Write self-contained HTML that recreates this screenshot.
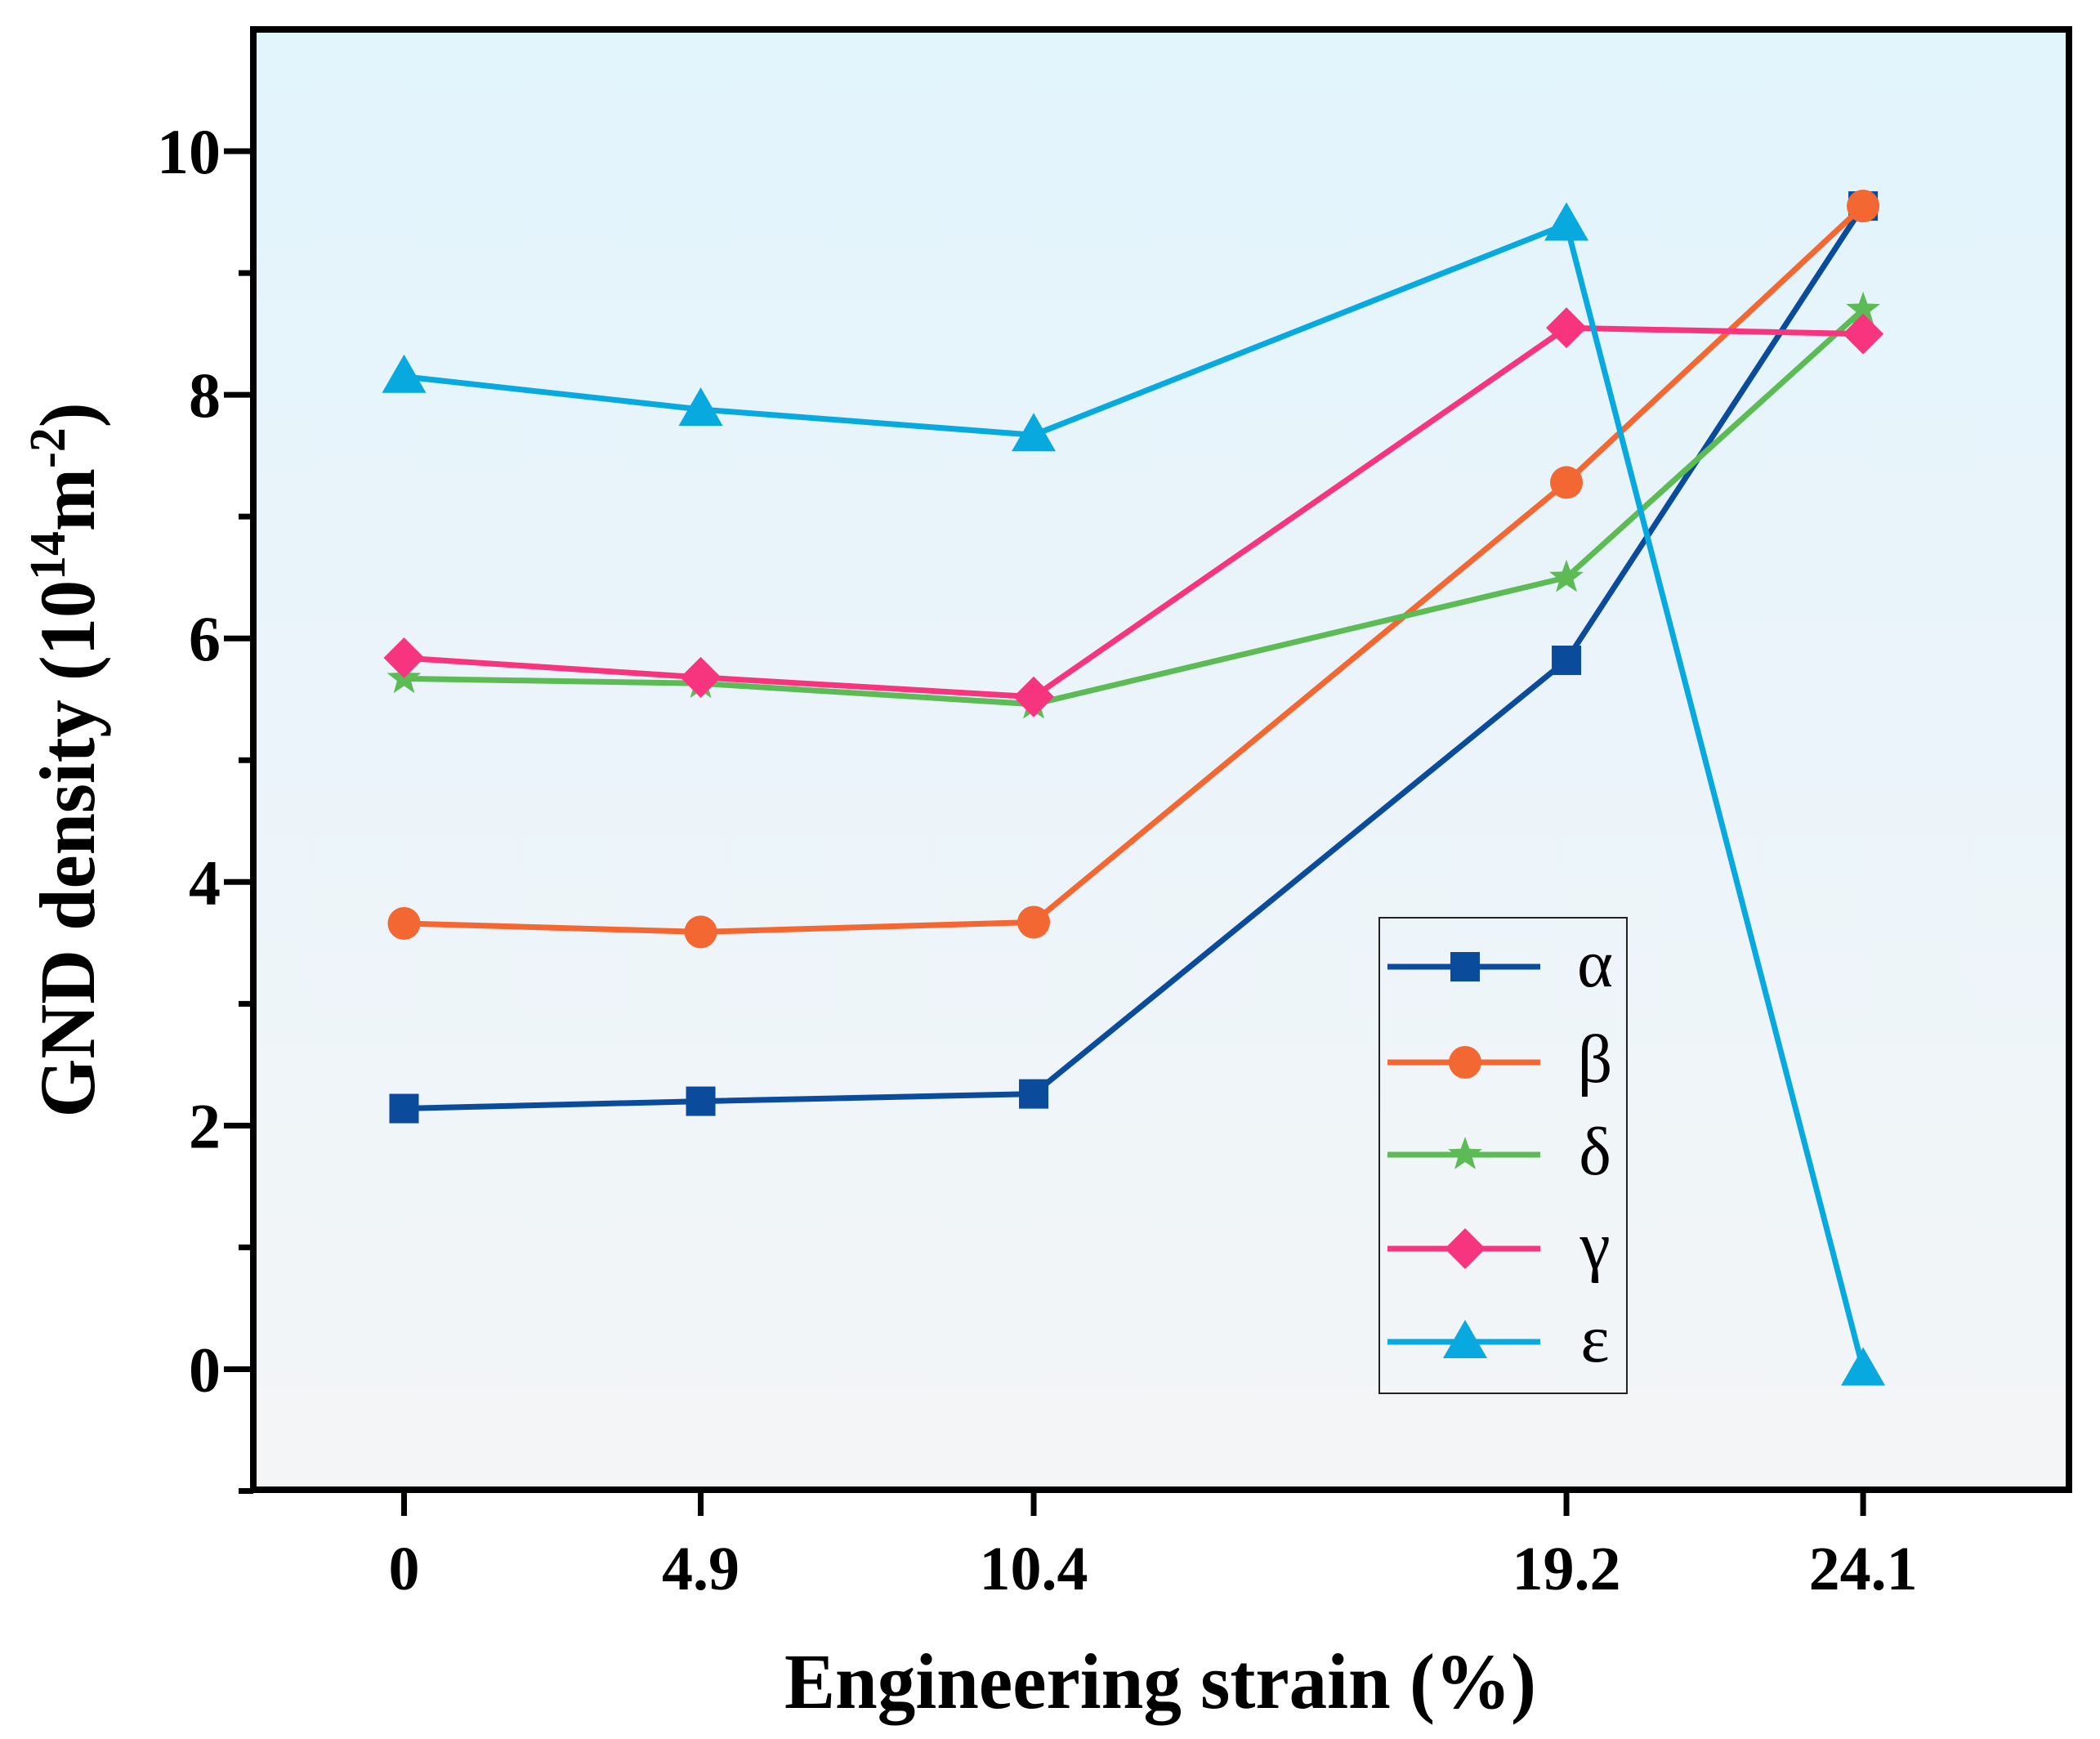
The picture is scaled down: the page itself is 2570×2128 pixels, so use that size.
<!DOCTYPE html>
<html><head><meta charset="utf-8"><style>
html,body{margin:0;padding:0;background:#fff;}
svg{display:block;}
text{font-family:"Liberation Serif",serif;font-weight:bold;fill:#000;}
</style></head><body>
<svg id="chart" width="2570" height="2128" viewBox="0 0 2570 2128" xmlns="http://www.w3.org/2000/svg">
<defs>
<linearGradient id="bg" x1="0" y1="0" x2="0" y2="1">
<stop offset="0" stop-color="#e2f4fc"/><stop offset="1" stop-color="#f4f5f7"/>
</linearGradient>
</defs>
<rect x="310" y="36" width="2222" height="1787" fill="url(#bg)"/>
<g id="series"></g>
<g id="axes"></g>
<g id="legend"></g>
<text x="1420" y="2090" font-size="96" text-anchor="middle" textLength="920" lengthAdjust="spacingAndGlyphs">Engineering strain (%)</text>
<text transform="translate(115,930) rotate(-90)" font-size="96" text-anchor="middle" textLength="875" lengthAdjust="spacingAndGlyphs">GND density (10<tspan font-size="62" dy="-36">14</tspan><tspan dy="36">m</tspan><tspan font-size="62" dy="-36">-2</tspan><tspan dy="36">)</tspan></text>
</svg>
<script>
const categories = [0, 4.9, 10.4, 19.2, 24.1];
const xTickLabels = ["0", "4.9", "10.4", "19.2", "24.1"];
const yTickValues = [0, 2, 4, 6, 8, 10];
const yMinorTicks = [-1, 1, 3, 5, 7, 9];
const seriesNames = ["α", "β", "δ", "γ", "ε"];
const alphaValues = [2.14, 2.2, 2.26, 5.82, 9.55];
const betaValues = [3.66, 3.59, 3.67, 7.28, 9.55];
const deltaValues = [5.67, 5.63, 5.46, 6.5, 8.7];
const gammaValues = [5.84, 5.68, 5.52, 8.55, 8.5];
const epsilonValues = [8.15, 7.88, 7.67, 9.4, 0];

const NS = "http://www.w3.org/2000/svg";
const L = 310, R = 2532, T = 36, B = 1823;
const xMin = -2.49, xMax = 27.5, yMin = -0.99, yMax = 11;
function xs(v){ return L + (v - xMin) / (xMax - xMin) * (R - L); }
function ys(v){ return B - (v - yMin) / (yMax - yMin) * (B - T); }
function mk(tag, attrs, parent){ const e = document.createElementNS(NS, tag); for (const k in attrs) e.setAttribute(k, attrs[k]); parent.appendChild(e); return e; }

const styles = [
  {vals: alphaValues, color: "#0b4b9c", marker: "square", key: "alpha"},
  {vals: betaValues, color: "#f26732", marker: "circle", key: "beta"},
  {vals: deltaValues, color: "#5dbb55", marker: "star", key: "delta"},
  {vals: gammaValues, color: "#f7357f", marker: "diamond", key: "gamma"},
  {vals: epsilonValues, color: "#08a9de", marker: "triangle", key: "epsilon"}
];

function drawMarker(type, cx, cy, color, parent){
  let e;
  if (type === "square") e = mk("rect", {x: cx-18, y: cy-18, width: 36, height: 36, fill: color}, parent);
  else if (type === "circle") e = mk("circle", {cx: cx, cy: cy, r: 20, fill: color}, parent);
  else if (type === "diamond") e = mk("polygon", {points: `${cx},${cy-25} ${cx+25},${cy} ${cx},${cy+25} ${cx-25},${cy}`, fill: color}, parent);
  else if (type === "triangle") e = mk("polygon", {points: `${cx},${cy-27} ${cx+27},${cy+20} ${cx-27},${cy+20}`, fill: color}, parent);
  else {
    let p = [];
    for (let i = 0; i < 10; i++){ const r = i % 2 ? 9 : 22; const a = -Math.PI/2 + i*Math.PI/5; p.push((cx + r*Math.cos(a)).toFixed(1) + "," + (cy + r*Math.sin(a)).toFixed(1)); }
    e = mk("polygon", {points: p.join(" "), fill: color}, parent);
  }
  return e;
}

const sg = document.getElementById("series");
styles.forEach((s, si) => {
  const g = mk("g", {}, sg);
  
  
  const pts = s.vals.map((v, i) => xs(categories[i]).toFixed(1) + "," + ys(v).toFixed(1)).join(" ");
  const line = mk("polyline", {points: pts, fill: "none", stroke: s.color, "stroke-width": 7, "stroke-linejoin": "round"}, g);
  
  
  s.vals.forEach((v, i) => {
    const m = drawMarker(s.marker, xs(categories[i]), ys(v), s.color, g);
    
    
  });
});

const ax = document.getElementById("axes");
mk("rect", {x: L, y: T, width: R-L, height: B-T, fill: "none", stroke: "#000", "stroke-width": 8}, ax);
yTickValues.forEach(v => {
  const t = mk("line", {x1: L-36, x2: L, y1: ys(v), y2: ys(v), stroke: "#000", "stroke-width": 7}, ax);
  
  
  const lb = mk("text", {x: 270, y: ys(v)+27, "font-size": 78, "text-anchor": "end"}, ax);
  lb.textContent = String(v);
  
  
});
yMinorTicks.forEach(v => {
  const t = mk("line", {x1: L-18, x2: L, y1: ys(v), y2: ys(v), stroke: "#000", "stroke-width": 7}, ax);
  
  
});
categories.forEach((c, i) => {
  const t = mk("line", {x1: xs(c), x2: xs(c), y1: B, y2: B+32, stroke: "#000", "stroke-width": 7}, ax);
  
  
  const lb = mk("text", {x: xs(c), y: 1945, "font-size": 76, "text-anchor": "middle"}, ax);
  lb.textContent = xTickLabels[i];
  
  
});

const lg = document.getElementById("legend");


mk("rect", {x: 1688, y: 1123, width: 303, height: 582, fill: "none", stroke: "#222", "stroke-width": 2}, lg);
const legendY = [1183, 1300, 1413, 1528, 1642];
styles.forEach((s, i) => {
  const g = mk("g", {}, lg);
  
  
  mk("line", {x1: 1698, x2: 1885, y1: legendY[i], y2: legendY[i], stroke: s.color, "stroke-width": 7}, g);
  drawMarker(s.marker, 1793, legendY[i], s.color, g);
  const t = mk("text", {x: 1952, y: legendY[i]+24, "font-size": 84, "text-anchor": "middle"}, g);
  t.style.fontWeight = "normal";
  t.textContent = seriesNames[i];
});
</script>
</body></html>
